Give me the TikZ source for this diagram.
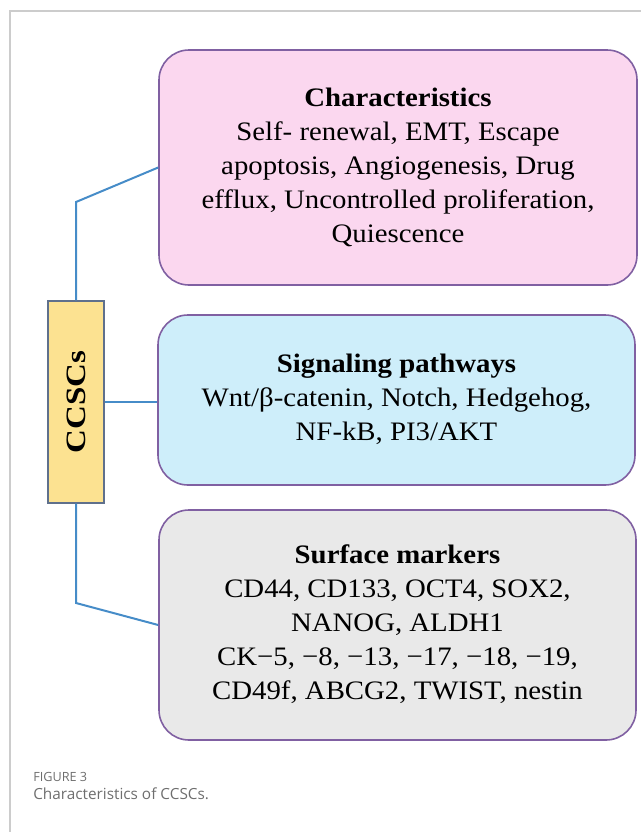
\documentclass[tikz,border=0pt]{standalone}
\usepackage{fontspec}
\setmainfont{Liberation Serif}
\newfontfamily\capfont{Open Sans}
\usetikzlibrary{positioning}
\definecolor{pinkfill}{RGB}{251,215,239}
\definecolor{bluefill}{RGB}{206,238,250}
\definecolor{grayfill}{RGB}{233,233,233}
\definecolor{yelfill}{RGB}{252,226,145}
\definecolor{boxline}{RGB}{128,96,162}
\definecolor{yelline}{RGB}{95,112,140}
\definecolor{conn}{RGB}{70,140,200}
\definecolor{framegray}{RGB}{204,204,204}
\definecolor{captext}{RGB}{110,110,110}
\newcommand\boxtext[1]{\scalebox{1.08}[1]{\begin{tabular}{@{}c@{}}#1\end{tabular}}}
\tikzset{
  infobox/.style={draw=boxline, line width=1.2pt, rounded corners=22.5pt, align=center,
    font=\fontsize{20}{25.5}\selectfont, inner sep=0pt},
  rootbox/.style={draw=yelline, line width=1pt, fill=yelfill, minimum width=42pt, minimum height=151.5pt, inner sep=0pt},
  link/.style={draw=conn, line width=1.5pt},
}
\begin{document}
\begin{tikzpicture}[x=0.75pt, y=-0.75pt]
\useasboundingbox (0,0) rectangle (641,832);
\draw[framegray, line width=0.9pt] (10,832) -- (10,11) -- (641,11);

\node[infobox, fill=pinkfill, minimum width=358.5pt, minimum height=176.25pt] (b1) at (398,167.5)
  {\boxtext{\textbf{Characteristics}\\Self- renewal, EMT, Escape\\apoptosis, Angiogenesis, Drug\\efflux, Uncontrolled proliferation,\\Quiescence}};
\node[infobox, fill=bluefill, minimum width=357.75pt, minimum height=127.5pt] (b2) at (396.5,400)
  {\boxtext{\textbf{Signaling pathways}\\Wnt/β-catenin, Notch, Hedgehog,\\NF-kB, PI3/AKT}};
\node[infobox, fill=grayfill, minimum width=357.75pt, minimum height=172.5pt] (b3) at (397.5,625)
  {\boxtext{\textbf{Surface markers}\\CD44, CD133, OCT4, SOX2,\\NANOG, ALDH1\\CK−5, −8, −13, −17, −18, −19,\\CD49f, ABCG2, TWIST, nestin}};

\node[rootbox] (c) at (76,402) {};
\node[rotate=90, font=\fontsize{21}{24}\selectfont\bfseries] (ct) at (c.center) {\scalebox{1.18}[1]{CCSCs}};

\coordinate (k1) at (76,202);
\coordinate (k3) at (76,603);
\draw[link] (c.north) -- (k1) -- (b1.west);
\draw[link] (c.east) -- (c.east -| b2.west);
\draw[link] (c.south) -- (k3) -- (b3.west);

\node[anchor=west, inner sep=0pt, text=captext, font=\capfont\fontsize{9.5}{11}\selectfont] (f3) at (33,777) {FIGURE 3};
\node[anchor=west, inner sep=0pt, text=captext, font=\capfont\fontsize{11.5}{14}\selectfont] (cap) at (33,794) {Characteristics of CCSCs.};
\end{tikzpicture}
\end{document}
